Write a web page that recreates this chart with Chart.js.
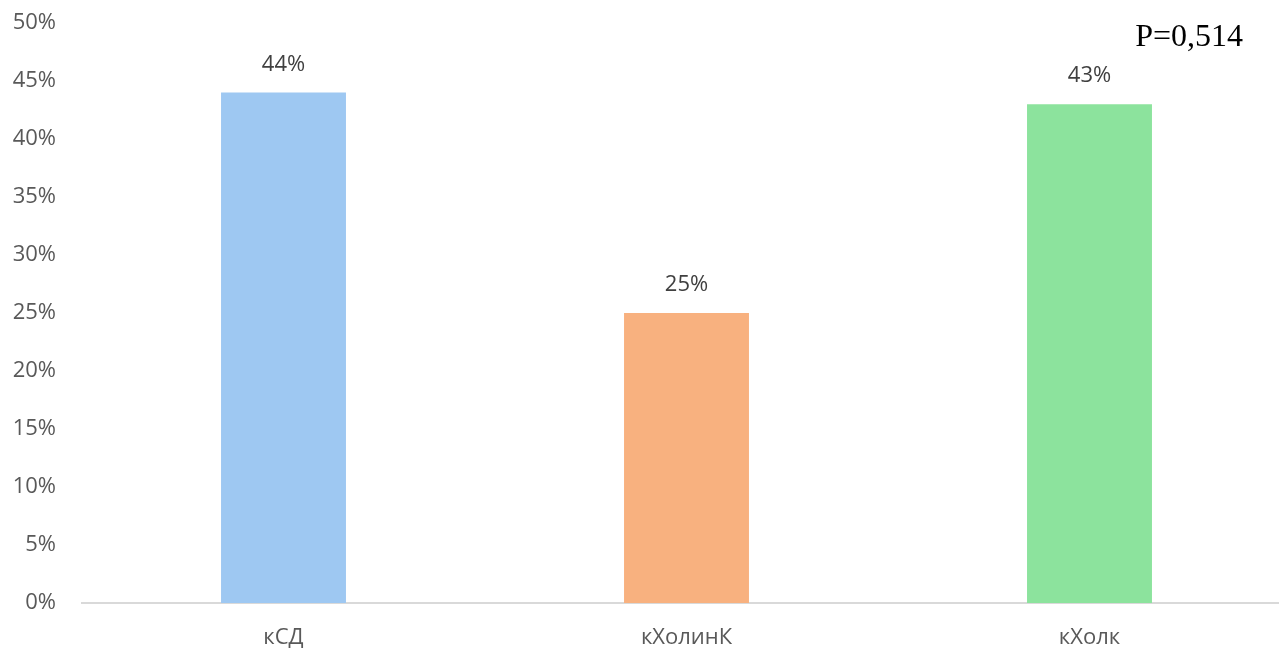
<!DOCTYPE html>
<html>
<head>
<meta charset="utf-8">
<script src="https://cdn.jsdelivr.net/npm/chart.js@4"></script>
<style>
  html, body { margin: 0; padding: 0; background: #fff; overflow: hidden; }
  #wrap { width: 1291px; height: 653px; position: relative; }
</style>
</head>
<body>
<div id="wrap"><canvas id="barChart"></canvas></div>
<script>
// Chart data
const categories = ['кСД', 'кХолинК', 'кХолк'];
const values = [44, 25, 43];
const barColors = ['#9ec8f2', '#f8b17f', '#8ce39d'];
const yTicks = [0, 5, 10, 15, 20, 25, 30, 35, 40, 45, 50];
const pValueText = 'P=0,514';

// Draws the percent above each bar and the p-value in the corner
const labelsPlugin = {
    id: 'barLabels',
    afterDatasetsDraw(chart) {
        const ctx = chart.ctx;
        const meta = chart.getDatasetMeta(0);
        ctx.save();
        ctx.font = '22px "Open Sans"';
        ctx.fillStyle = '#404040';
        ctx.textAlign = 'center';
        ctx.textBaseline = 'middle';
        meta.data.forEach((bar, i) => {
            ctx.fillText(values[i] + '%', bar.x, bar.y - 28);
        });
        ctx.font = '32px "Liberation Serif"';
        ctx.fillStyle = '#000';
        ctx.textAlign = 'right';
        ctx.fillText(pValueText, 1243, 38);
        ctx.restore();
    }
};

new Chart(document.getElementById('barChart').getContext('2d'), {
    type: 'bar',
    data: {
        labels: categories,
        datasets: [{
            data: values,
            backgroundColor: barColors,
            borderWidth: 0,
            categoryPercentage: 1,
            barPercentage: 0.31
        }]
    },
    options: {
        responsive: true,
        maintainAspectRatio: false,
        animation: false,
        layout: { padding: { top: 23, right: 0, left: 0, bottom: 0 } },
        plugins: {
            legend: { display: false },
            tooltip: { enabled: false }
        },
        scales: {
            x: {
                grid: { display: false, drawTicks: false },
                border: { display: true, color: '#d9d9d9', width: 2 },
                ticks: {
                    color: '#595959',
                    font: { family: 'Open Sans', size: 22 },
                    padding: 22
                },
                afterFit(scale) { scale.height = 50; }
            },
            y: {
                min: 0,
                max: 50,
                grid: { display: false, drawTicks: false },
                border: { display: false },
                afterBuildTicks(scale) {
                    scale.ticks = yTicks.map(v => ({ value: v }));
                },
                ticks: {
                    color: '#595959',
                    font: { family: 'Open Sans', size: 22 },
                    padding: 26,
                    callback: v => v + '%'
                },
                afterFit(scale) {
                    scale.width = 82;
                    scale.paddingTop = 0;
                    scale.paddingBottom = 0;
                }
            }
        }
    },
    plugins: [labelsPlugin]
});
</script>
</body>
</html>
